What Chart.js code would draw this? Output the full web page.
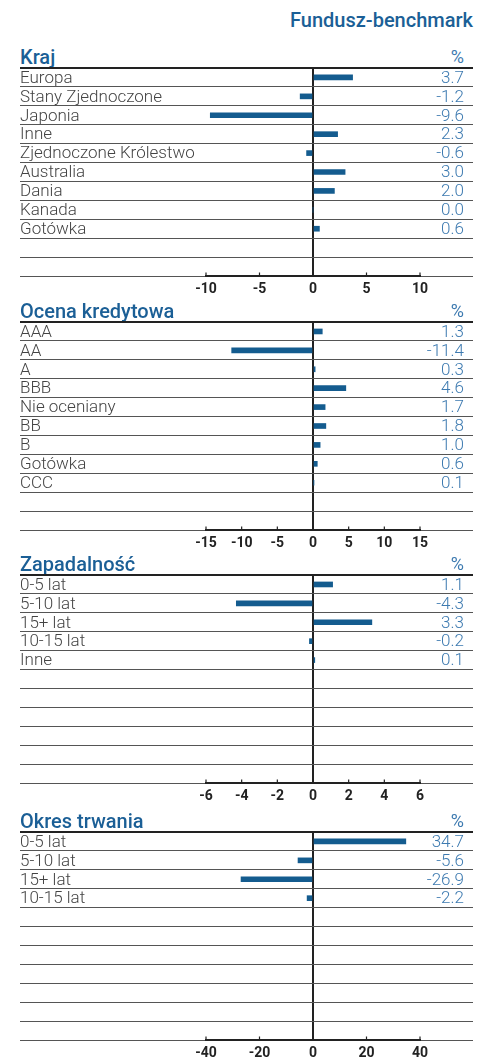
<!DOCTYPE html>
<html>
<head>
<meta charset="utf-8">
<script src="https://cdn.jsdelivr.net/npm/chart.js@4"></script>
<style>
  body { margin: 0; width: 489px; height: 1064px; background: #fff; position: relative; overflow: hidden; font-family: Roboto, "Noto Sans", sans-serif; }
  .head { position: absolute; right: 16px; top: 10px; font-size: 20px; line-height: 20px; font-weight: 500; color: #1b5f96; }
  .title { position: absolute; left: 20px; font-size: 20px; line-height: 20px; font-weight: 500; color: #1b5f96; }
  .pct { position: absolute; right: 25px; font-size: 18px; line-height: 20px; color: #3d7ab0; }
  canvas { position: absolute; left: 0; }
</style>
</head>
<body>
<div class="head">Fundusz-benchmark</div>

<script>
// --- data -----------------------------------------------------------------
const titles = ["Kraj", "Ocena kredytowa", "Zapadalność", "Okres trwania"];

const krajLabels = ["Europa", "Stany Zjednoczone", "Japonia", "Inne", "Zjednoczone Królestwo", "Australia", "Dania", "Kanada", "Gotówka"];
const krajValues = [3.7, -1.2, -9.6, 2.3, -0.6, 3.0, 2.0, 0.0, 0.6];
const krajTicks = [-10, -5, 0, 5, 10];

const ocenaLabels = ["AAA", "AA", "A", "BBB", "Nie oceniany", "BB", "B", "Gotówka", "CCC"];
const ocenaValues = [1.3, -11.4, 0.3, 4.6, 1.7, 1.8, 1.0, 0.6, 0.1];
const ocenaTicks = [-15, -10, -5, 0, 5, 10, 15];

const zapadLabels = ["0-5 lat", "5-10 lat", "15+ lat", "10-15 lat", "Inne"];
const zapadValues = [1.1, -4.3, 3.3, -0.2, 0.1];
const zapadTicks = [-6, -4, -2, 0, 2, 4, 6];

const okresLabels = ["0-5 lat", "5-10 lat", "15+ lat", "10-15 lat"];
const okresValues = [34.7, -5.6, -26.9, -2.2];
const okresTicks = [-40, -20, 0, 20, 40];

// --- layout (page pixels) --------------------------------------------------
const ROWS = 11;                         // every panel has 11 ruled rows
const TOPS = [68, 322, 575, 832];        // y of each panel's top rule
const ROWS_H = 213;                      // height of the ruled block
const AREA_L = 20, AREA_R = 473, ZERO = 313, TICK_SPAN = 107; // 0 -> 313, +-R -> 313 +- 107
const BLUE = "#145c8f", VALUE_BLUE = "#3d7ab0";
const LABEL_FONT = { family: "Roboto", size: 17, weight: "300" };
const TICK_PAD = 5;

// keep axes from reserving room for half-labels at the ends
const noPad = s => { s.paddingTop = s.paddingBottom = s.paddingLeft = s.paddingRight = 0; };

// small upward tick marks + dark axis segment between the outer ticks
const axisMarks = {
  id: "axisMarks",
  afterDraw(chart) {
    const { ctx, chartArea } = chart;
    const x = chart.scales.x;
    const y = chartArea.bottom;
    const px = x.ticks.map(t => x.getPixelForValue(t.value));
    ctx.save();
    ctx.strokeStyle = "#222";
    ctx.lineWidth = 2;
    ctx.beginPath();
    ctx.moveTo(px[0] - 1, y); ctx.lineTo(px[px.length - 1] + 1, y);
    ctx.stroke();
    ctx.lineWidth = 1.2;
    ctx.beginPath();
    px.forEach(p => { ctx.moveTo(p, y); ctx.lineTo(p, y - 3.5); });
    ctx.stroke();
    ctx.restore();
  }
};

function panel(i, labels, values, ticks) {
  const top = TOPS[i];
  const t = document.createElement("div");
  t.className = "title"; t.textContent = titles[i]; t.style.top = (top - 21) + "px";
  const p = document.createElement("div");
  p.className = "pct"; p.textContent = "%"; p.style.top = (top - 21) + "px";
  const cv = document.createElement("canvas");
  cv.width = 489; cv.height = 240; cv.style.top = (top - 2) + "px";
  document.body.append(t, p, cv);

  const pad = ROWS - labels.length;
  const rowLabels = labels.concat(Array(pad).fill(""));
  const rowValues = values.concat(Array(pad).fill(null));
  const valueLabels = values.map(v => v.toFixed(1)).concat(Array(pad).fill(""));
  const R = Math.max(...ticks.map(Math.abs));
  const unit = TICK_SPAN / R;
  const xAxisH = TICK_PAD + 14 * 1.2;

  new Chart(cv, {
    type: "bar",
    data: {
      labels: rowLabels,
      datasets: [{ data: rowValues, backgroundColor: BLUE, barThickness: 5, yAxisID: "y" }],
    },
    options: {
      indexAxis: "y",
      responsive: false, animation: false,
      layout: { padding: { left: AREA_L, right: 489 - AREA_R, top: 2, bottom: 240 - 2 - ROWS_H - xAxisH } },
      plugins: { legend: { display: false }, tooltip: { enabled: false } },
      scales: {
        x: {
          min: -(ZERO - AREA_L) / unit, max: (AREA_R - ZERO) / unit,
          afterBuildTicks: s => { s.ticks = ticks.map(v => ({ value: v })); },
          afterFit: noPad,
          grid: {
            drawTicks: false,
            color: c => (c.tick && c.tick.value === 0 ? "#222" : "rgba(0,0,0,0)"),
            lineWidth: 2,
          },
          border: { display: false },
          ticks: { padding: TICK_PAD, color: "#222", font: { family: "Roboto", size: 14, weight: "bold" }, callback: v => String(v) },
        },
        y: {
          type: "category",
          offset: true,
          afterFit: noPad,
          grid: {
            offset: true, drawTicks: false,
            color: c => (c.index === 0 ? "#222" : "#555"),
            lineWidth: c => (c.index === 0 ? 2 : 1),
          },
          border: { display: false },
          ticks: { mirror: true, padding: 0, labelOffset: 1, autoSkip: false, color: "#444", font: LABEL_FONT },
        },
        y2: {
          type: "category",
          position: "right",
          labels: valueLabels,
          offset: true,
          afterFit: s => { noPad(s); s.width = 0; },
          grid: { display: false },
          border: { display: false },
          ticks: { mirror: true, padding: -9, labelOffset: 1, autoSkip: false, color: VALUE_BLUE, font: LABEL_FONT },
        },
      },
    },
    plugins: [axisMarks],
  });
}

panel(0, krajLabels, krajValues, krajTicks);
panel(1, ocenaLabels, ocenaValues, ocenaTicks);
panel(2, zapadLabels, zapadValues, zapadTicks);
panel(3, okresLabels, okresValues, okresTicks);
</script>
</body>
</html>
